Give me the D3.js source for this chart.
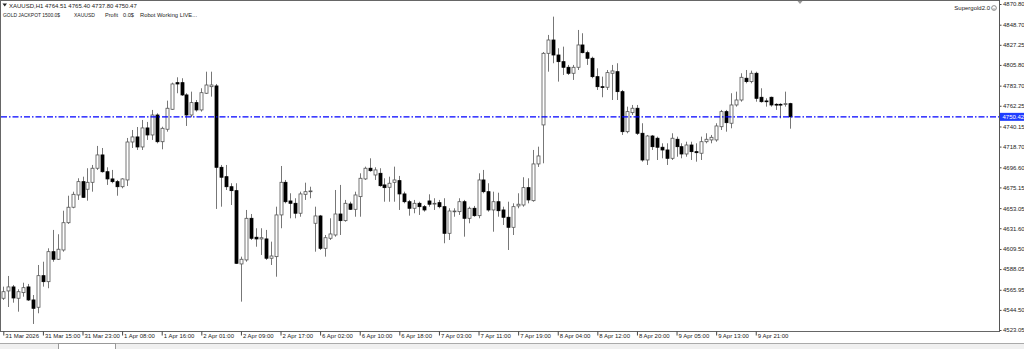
<!DOCTYPE html>
<html>
<head>
<meta charset="utf-8">
<script src="https://cdn.jsdelivr.net/npm/d3@7"></script>
<style>
body { margin: 0; background: #fff; overflow: hidden; }
svg text { font-family: "Liberation Sans", Arial, sans-serif; font-size: 6px; fill: #222; }
</style>
</head>
<body>
<div id="chart"></div>
<script>
// XAUUSD H1 candles
var opens = [
4556.9, 4564.7, 4569.0, 4556.9, 4562.9, 4569.0, 4555.1, 4547.3, 4581.0, 4574.6,
4606.6, 4598.5, 4608.4, 4637.5, 4654.0, 4667.1, 4681.3, 4673.2, 4680.6, 4695.6,
4709.8, 4691.9, 4684.2, 4681.3, 4675.9, 4683.1, 4723.6, 4729.0, 4718.3, 4738.6,
4731.1, 4752.4, 4723.9, 4737.2, 4758.5, 4786.9, 4786.9, 4773.8, 4752.4, 4765.6,
4757.8, 4775.6, 4782.6, 4783.4, 4696.6, 4686.6, 4675.9, 4671.7, 4593.5, 4597.8,
4642.2, 4622.0, 4620.2, 4620.2, 4599.6, 4601.3, 4645.8, 4680.6, 4660.7, 4658.2,
4647.6, 4667.8, 4670.6, 4636.9, 4644.7, 4610.2, 4620.9, 4624.4, 4646.8, 4639.7,
4657.5, 4651.8, 4665.3, 4684.2, 4695.6, 4688.4, 4690.2, 4677.8, 4675.3, 4680.6,
4682.4, 4668.2, 4659.9, 4652.9, 4658.2, 4654.6, 4660.7, 4657.5, 4658.9, 4654.6,
4626.2, 4649.3, 4649.3, 4659.9, 4642.2, 4652.9, 4645.0, 4683.1, 4670.6, 4651.1,
4659.9, 4651.1, 4643.3, 4632.6, 4655.4, 4656.4, 4674.9, 4661.0, 4700.2, 4741.8,
4818.2, 4832.4, 4816.4, 4809.3, 4803.3, 4796.9, 4803.3, 4827.1, 4818.9, 4812.9,
4793.3, 4782.6, 4782.0, 4796.9, 4798.6, 4777.3, 4734.6, 4754.9, 4759.6, 4732.9,
4704.4, 4730.0, 4727.6, 4718.0, 4715.1, 4706.2, 4726.5, 4718.6, 4710.8, 4720.4,
4713.3, 4711.6, 4723.9, 4725.8, 4725.8, 4739.9, 4756.0, 4743.6, 4763.1, 4768.4,
4791.6, 4788.0, 4796.9, 4771.3, 4767.4, 4771.3, 4763.8, 4763.8, 4763.8, 4764.51
];
var highs = [
4569.3, 4580.7, 4571.1, 4566.5, 4573.5, 4572.2, 4560.4, 4592.4, 4595.9, 4610.2,
4629.8, 4625.2, 4650.3, 4666.3, 4670.6, 4684.9, 4686.6, 4695.6, 4699.1, 4719.4,
4717.2, 4696.6, 4693.8, 4683.1, 4684.9, 4727.9, 4736.4, 4739.6, 4747.1, 4745.0,
4757.8, 4754.2, 4739.9, 4767.7, 4786.9, 4792.6, 4791.6, 4775.6, 4777.3, 4768.4,
4780.9, 4798.6, 4798.6, 4785.5, 4699.1, 4699.1, 4679.6, 4679.6, 4601.3, 4651.1,
4646.8, 4631.6, 4631.6, 4629.8, 4617.3, 4654.6, 4698.0, 4683.1, 4668.9, 4663.6,
4670.6, 4680.2, 4675.9, 4654.6, 4645.8, 4624.4, 4642.2, 4672.4, 4677.8, 4661.8,
4659.9, 4670.6, 4690.2, 4697.3, 4706.2, 4696.6, 4695.6, 4684.9, 4686.6, 4697.3,
4687.4, 4670.6, 4661.8, 4661.8, 4659.9, 4656.4, 4667.8, 4663.6, 4661.8, 4663.6,
4652.9, 4652.9, 4663.6, 4661.8, 4654.6, 4655.4, 4690.2, 4693.8, 4679.6, 4670.6,
4669.5, 4654.6, 4659.9, 4658.2, 4668.9, 4686.0, 4684.9, 4715.1, 4718.6, 4819.6,
4837.8, 4857.3, 4823.6, 4825.3, 4805.8, 4805.8, 4843.1, 4839.6, 4821.0, 4814.6,
4802.2, 4793.3, 4800.4, 4805.8, 4807.6, 4779.1, 4761.3, 4763.1, 4763.1, 4743.6,
4731.1, 4731.1, 4729.3, 4722.2, 4722.2, 4732.9, 4729.3, 4722.2, 4723.9, 4723.9,
4722.2, 4729.3, 4732.9, 4731.1, 4743.6, 4757.8, 4757.8, 4775.6, 4777.3, 4796.9,
4800.4, 4799.7, 4798.6, 4780.9, 4770.2, 4772.0, 4764.9, 4764.9, 4777.3, 4765.40
];
var lows = [
4555.1, 4547.6, 4552.2, 4542.6, 4558.6, 4554.0, 4529.5, 4540.9, 4569.3, 4567.6,
4595.9, 4597.8, 4606.6, 4636.2, 4652.9, 4661.8, 4663.9, 4661.0, 4670.6, 4693.8,
4690.9, 4677.8, 4679.6, 4666.3, 4674.2, 4676.7, 4717.2, 4715.1, 4715.1, 4725.8,
4725.8, 4722.2, 4715.8, 4734.6, 4757.8, 4775.6, 4772.7, 4740.7, 4750.0, 4756.0,
4756.0, 4774.8, 4772.0, 4652.2, 4654.6, 4672.4, 4656.4, 4593.5, 4553.3, 4595.9,
4619.1, 4611.9, 4603.1, 4597.8, 4592.4, 4579.9, 4631.6, 4658.2, 4642.2, 4642.2,
4643.9, 4661.8, 4663.6, 4606.6, 4608.4, 4601.3, 4619.1, 4622.6, 4624.4, 4638.6,
4651.1, 4643.9, 4643.9, 4683.1, 4691.9, 4683.1, 4675.9, 4659.9, 4659.9, 4659.9,
4651.1, 4658.2, 4645.0, 4647.6, 4645.8, 4649.3, 4654.6, 4651.1, 4652.9, 4615.6,
4619.1, 4643.9, 4645.8, 4622.6, 4636.9, 4643.9, 4642.2, 4668.9, 4649.3, 4627.9,
4643.9, 4635.1, 4608.4, 4624.4, 4652.9, 4654.6, 4658.2, 4659.9, 4697.0, 4700.9,
4798.6, 4807.6, 4788.0, 4795.1, 4795.1, 4789.8, 4800.4, 4818.2, 4805.8, 4791.6,
4779.1, 4771.3, 4779.1, 4768.4, 4768.4, 4731.1, 4732.9, 4752.4, 4731.1, 4702.6,
4699.1, 4715.1, 4704.4, 4706.2, 4699.1, 4704.4, 4707.9, 4706.2, 4707.9, 4704.4,
4702.6, 4704.4, 4722.2, 4722.2, 4723.9, 4736.4, 4734.6, 4738.2, 4761.3, 4766.6,
4786.2, 4786.2, 4766.6, 4765.6, 4761.3, 4761.3, 4757.8, 4748.9, 4761.3, 4737.80
];
var closes = [
4563.9, 4569.0, 4557.2, 4563.9, 4568.2, 4555.1, 4546.2, 4581.0, 4574.6, 4606.6,
4598.5, 4609.2, 4637.5, 4654.0, 4667.8, 4681.3, 4664.6, 4680.6, 4695.6, 4709.8,
4691.9, 4684.2, 4681.3, 4675.9, 4684.2, 4723.6, 4729.0, 4718.3, 4738.6, 4731.1,
4752.4, 4723.9, 4738.2, 4759.6, 4785.5, 4785.5, 4773.8, 4752.4, 4765.6, 4757.8,
4776.2, 4784.4, 4784.4, 4696.6, 4686.0, 4675.9, 4671.7, 4594.2, 4598.5, 4642.2,
4620.9, 4620.2, 4621.5, 4599.6, 4602.0, 4645.8, 4680.6, 4659.9, 4658.2, 4647.6,
4668.2, 4670.6, 4671.4, 4644.7, 4610.2, 4621.5, 4625.5, 4646.8, 4639.7, 4658.2,
4651.8, 4667.1, 4684.9, 4695.6, 4693.0, 4693.8, 4677.0, 4674.9, 4679.6, 4683.1,
4668.2, 4659.9, 4652.9, 4658.2, 4654.6, 4651.1, 4657.2, 4658.2, 4654.6, 4626.2,
4650.0, 4650.0, 4659.9, 4642.2, 4652.9, 4645.0, 4683.1, 4670.6, 4651.1, 4659.9,
4650.3, 4643.3, 4632.6, 4654.6, 4657.2, 4674.9, 4661.8, 4700.2, 4708.7, 4818.2,
4832.4, 4816.4, 4809.3, 4803.3, 4796.9, 4803.3, 4827.1, 4818.9, 4812.9, 4793.3,
4782.6, 4782.0, 4797.6, 4799.4, 4777.3, 4734.6, 4756.0, 4759.6, 4732.9, 4704.4,
4730.0, 4718.6, 4718.0, 4715.1, 4706.2, 4727.6, 4718.6, 4710.8, 4720.4, 4713.3,
4712.2, 4723.9, 4726.5, 4728.6, 4740.7, 4756.0, 4744.2, 4763.1, 4768.4, 4792.6,
4788.0, 4796.9, 4770.2, 4766.6, 4766.6, 4763.1, 4763.1, 4763.1, 4764.5, 4750.47
];

// time labels sit on every 8th bar
var timeBars = [0, 8, 16, 24, 32, 40, 48, 56, 64, 72, 80, 88, 96, 104, 112, 120, 128, 136, 144, 152];
var timeLabels = ["31 Mar 2026", "31 Mar 15:00", "31 Mar 23:00", "1 Apr 08:00", "1 Apr 16:00",
  "2 Apr 01:00", "2 Apr 09:00", "2 Apr 17:00", "6 Apr 02:00", "6 Apr 10:00", "6 Apr 18:00",
  "7 Apr 03:00", "7 Apr 11:00", "7 Apr 19:00", "8 Apr 04:00", "8 Apr 12:00", "8 Apr 20:00",
  "9 Apr 05:00", "9 Apr 13:00", "9 Apr 21:00"];
var priceTicks = [4870.80, 4848.70, 4827.25, 4805.80, 4783.70, 4762.25, 4740.15, 4718.70,
  4696.60, 4675.15, 4653.05, 4631.60, 4609.50, 4588.05, 4565.95, 4544.50, 4523.05];
var hlinePrice = 4750.42;
var lastBar = [4764.51, 4765.40, 4737.80, 4750.47];

var width = 1024, height = 349;
var axisX = 999.5, axisY = 331.5;

var x = d3.scaleLinear().domain([0, 159]).range([3.3, 790.4]);
var y = d3.scaleLinear().domain([4523.05, 4870.80]).range([330, 4]);

var svg = d3.select("#chart")
    .append("svg")
        .attr("width", width)
        .attr("height", height);

var candles = d3.range(opens.length).map(function(i) {
    return {i: i, o: opens[i], h: highs[i], l: lows[i], c: closes[i]};
});

// chart frame
svg.append("rect")
    .attr("x", 0.5).attr("y", 0.5)
    .attr("width", axisX - 0.5).attr("height", axisY - 0.5)
    .attr("fill", "#fff")
    .attr("stroke", "#666");

// candles
var g = svg.append("g");
g.selectAll(".wick")
    .data(candles)
    .enter().append("line")
        .attr("x1", function(d) { return Math.round(x(d.i)) + 0.5; })
        .attr("x2", function(d) { return Math.round(x(d.i)) + 0.5; })
        .attr("y1", function(d) { return y(Math.max(d.h, d.o, d.c)); })
        .attr("y2", function(d) { return y(Math.min(d.l, d.o, d.c)); })
        .attr("stroke", "#777")
        .attr("stroke-width", 1);

g.selectAll(".body")
    .data(candles)
    .enter().append("rect")
        .attr("x", function(d) { return Math.round(x(d.i)) - 1; })
        .attr("width", 3)
        .attr("y", function(d) { return y(Math.max(d.o, d.c)); })
        .attr("height", function(d) { return Math.max(0.8, y(Math.min(d.o, d.c)) - y(Math.max(d.o, d.c))); })
        .attr("fill", function(d) { return d.c >= d.o ? "#fff" : "#000"; })
        .attr("stroke", function(d) { return d.c >= d.o ? "#555" : "#000"; })
        .attr("stroke-width", 0.8);

// blue horizontal line
svg.append("line")
    .attr("x1", 1).attr("x2", axisX)
    .attr("y1", y(hlinePrice)).attr("y2", y(hlinePrice))
    .attr("stroke", "#0000ff")
    .attr("stroke-width", 1.4)
    .attr("stroke-dasharray", "6,2,1.5,2");

// price axis
var yAxis = d3.axisRight(y)
    .tickValues(priceTicks)
    .tickFormat(d3.format(".2f"))
    .tickSize(2)
    .tickPadding(1.5);
var ya = svg.append("g")
    .attr("transform", "translate(" + axisX + ",0)")
    .call(yAxis);
ya.select(".domain").remove();
ya.selectAll("line").attr("stroke", "#444");
ya.selectAll("text").attr("font-size", 6).attr("font-family", "Liberation Sans, Arial").attr("fill", "#222");

svg.append("line")
    .attr("x1", axisX).attr("x2", axisX)
    .attr("y1", 0).attr("y2", axisY)
    .attr("stroke", "#555");

// price label box
svg.append("rect")
    .attr("x", axisX + 0.5).attr("y", y(hlinePrice) - 4)
    .attr("width", width - axisX).attr("height", 8)
    .attr("fill", "#1f3dff");
svg.append("text")
    .attr("x", axisX + 3).attr("y", y(hlinePrice) + 2.2)
    .style("fill", "#fff")
    .text(d3.format(".2f")(hlinePrice));

// time axis
var xAxis = d3.axisBottom(x)
    .tickValues(timeBars)
    .tickFormat(function(d, i) { return timeLabels[i]; })
    .tickSize(4)
    .tickPadding(0);
var xa = svg.append("g")
    .attr("transform", "translate(0," + axisY + ")")
    .call(xAxis);
xa.select(".domain").remove();
xa.selectAll(".tick line").attr("stroke", "#444");
xa.selectAll(".tick text")
    .attr("text-anchor", "start")
    .attr("font-size", 6).attr("font-family", "Liberation Sans, Arial").attr("fill", "#222")
    .attr("dx", 1.5)
    .attr("y", 2.5);

// header texts
svg.append("path")
    .attr("d", "M2.5,3.5 L7,3.5 L4.75,6.5 Z")
    .attr("fill", "#222");
svg.append("text")
    .attr("x", 9).attr("y", 7.5)
    .text("XAUUSD,H1  " + lastBar.map(d3.format(".2f")).join(" "));

// second header line: text, left edge, width
var line2 = [["GOLD JACKPOT 1500.0$", 3, 57], ["XAUUSD", 74, 21], ["Profit", 105, 13],
  ["0.0$", 123, 11], ["Robot Working LIVE...", 140, 57]];
svg.selectAll(".hdr")
    .data(line2)
    .enter().append("text")
        .attr("x", function(d) { return d[1]; })
        .attr("y", 17)
        .attr("textLength", function(d) { return d[2]; })
        .attr("lengthAdjust", "spacingAndGlyphs")
        .text(function(d) { return d[0]; });

svg.append("text")
    .attr("x", 990).attr("y", 10)
    .attr("text-anchor", "end")
    .text("Supergold2.0");
svg.append("circle")
    .attr("cx", 994).attr("cy", 8).attr("r", 2.4)
    .attr("fill", "#fff").attr("stroke", "#444").attr("stroke-width", 0.6);
svg.append("path")
    .attr("d", "M992.8,8.6 Q994,10 995.2,8.6")
    .attr("fill", "none").attr("stroke", "#444").attr("stroke-width", 0.5);

// shift marker at top
svg.append("path")
    .attr("d", "M797.5,1 L802.5,1 L800,4 Z")
    .attr("fill", "#999");

// tab strip at bottom
svg.append("rect")
    .attr("x", 0).attr("y", 343)
    .attr("width", width).attr("height", 6)
    .attr("fill", "#f0f0f0");
svg.append("line")
    .attr("x1", 0).attr("x2", width)
    .attr("y1", 343.5).attr("y2", 343.5)
    .attr("stroke", "#aaa");
svg.append("rect")
    .attr("x", 58.5).attr("y", 343.5)
    .attr("width", 57).attr("height", 6)
    .attr("fill", "#fff").attr("stroke", "#999");
</script>
</body>
</html>
